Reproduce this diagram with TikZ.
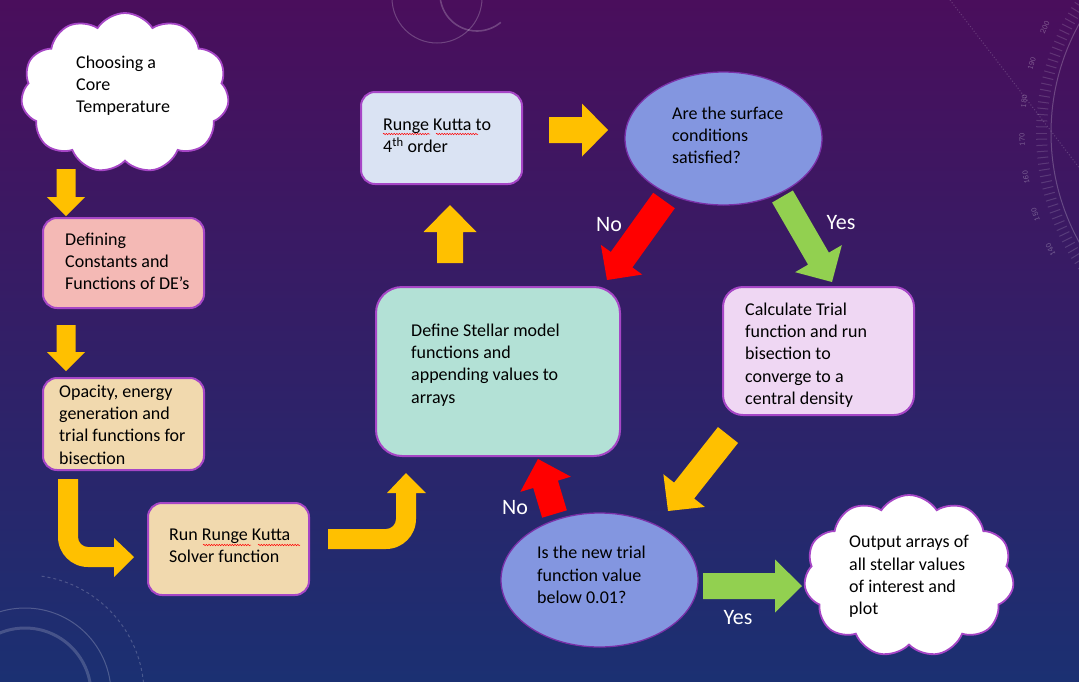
\documentclass[tikz,border=0pt]{standalone}
\usepackage{fontspec}
\setmainfont{Carlito}
\usetikzlibrary{shapes.geometric,shapes.symbols,calc,decorations.pathmorphing}
\definecolor{bgtop}{HTML}{4A0E5C}
\definecolor{bgmid}{HTML}{361C6C}
\definecolor{bgbot}{HTML}{1B3072}
\definecolor{boxline}{HTML}{A646C6}
\definecolor{ellline}{HTML}{7A30A8}
\definecolor{ellfill}{HTML}{8396E0}
\definecolor{pinkfill}{HTML}{F4B9B5}
\definecolor{wheatfill}{HTML}{F1D9AE}
\definecolor{tealfill}{HTML}{B3E1D6}
\definecolor{bluefill}{HTML}{DAE3F3}
\definecolor{lilacfill}{HTML}{EFD7F3}
\definecolor{arryellow}{HTML}{FFC000}
\definecolor{arrred}{HTML}{FF0000}
\definecolor{arrgreen}{HTML}{92D050}
\newcommand{\blockarrow}[6]{% color, tail, tip, shaft half, head half, head length
  \path ($(#3)!#6!(#2)$) coordinate (ab);
  \fill[#1] ($(#2)!#4!90:(#3)$) -- ($(ab)!#4!90:(#3)$) -- ($(ab)!#5!90:(#3)$) -- (#3)
    -- ($(ab)!#5!-90:(#3)$) -- ($(ab)!#4!-90:(#3)$) -- ($(#2)!#4!-90:(#3)$) -- cycle;
}
\begin{document}
\begin{tikzpicture}[x=1pt,y=-1pt,
  box/.style={draw=boxline, line width=2pt, rounded corners=14pt, inner sep=0pt},
  txt/.style={font=\fontsize{18}{22.3}\selectfont, align=left, inner sep=0pt, anchor=west, text=black},
  lbl/.style={font=\fontsize{22}{26}\selectfont, text=white, inner sep=0pt},
  ellbox/.style={ellipse, draw=ellline, line width=1.3pt, fill=ellfill, inner sep=0pt},
  cloudbox/.style={cloud, cloud puffs=11, cloud puff arc=115, draw=boxline, line width=1.8pt, fill=white, inner sep=0pt},
  deco/.style={draw=white, opacity=0.22, line width=1pt},
  dialnum/.style={font=\ttfamily\fontsize{8.5}{8.5}\selectfont, text=white, opacity=0.3, inner sep=0pt},
  squiggle/.style={draw=red, line width=0.5pt, decorate, decoration={snake, amplitude=0.7pt, segment length=2.6pt}}
]
\useasboundingbox (0,0) rectangle (1079,681);
\shade[top color=bgtop, middle color=bgmid, bottom color=bgbot] (0,0) rectangle (1079,681);

% background decoration
\coordinate (dialc) at (1276,133);
\draw[deco] (dialc) circle[radius=225];
\foreach \a in {141,142.5,...,216} {\draw[deco, opacity=0.15] ($(dialc)+(\a:229)$) -- ($(dialc)+(\a:240)$);}
\foreach \n in {140,150,...,200} {
  \pgfmathsetmacro\th{152.6+0.865*(\n-140)}
  \node[dialnum, rotate={-\th-90}] (dial\n) at ($(dialc)+(\th:254)$) {\n};
}
\draw[deco, dotted, opacity=0.18] (950,0) -- (1081,170);
\draw[deco] (437,-2) circle[radius=45];
\draw[deco, line width=1.6pt] (440,-6) arc[start angle=180, end angle=50, radius=37];
\coordinate (blc) at (25,694);
\draw[deco] (blc) circle[radius=86];
\draw[deco, line width=3pt, opacity=0.18] (blc) circle[radius=66];
\draw[deco, dashed, opacity=0.2] ($(blc)+(-82:119)$) arc[start angle=-82, end angle=80, radius=119];

% nodes
\node[cloudbox, minimum width=208pt, minimum height=160pt] (core) at (125,93) {};
\node[txt] (coret) at (76,85.5) {Choosing a\\Core\\Temperature};

\node[box, fill=pinkfill, minimum width=161pt, minimum height=90pt] (def) at (123.5,263) {};
\node[txt] (deft) at (65,261.5) {Defining\\Constants and\\Functions of DE’s};

\node[box, fill=wheatfill, minimum width=161pt, minimum height=92pt] (opa) at (123.5,424) {};
\node[txt] (opat) at (59,424.5) {Opacity, energy\\generation and\\trial functions for\\bisection};

\node[box, fill=wheatfill, minimum width=161pt, minimum height=92pt] (run) at (228.5,549) {};
\node[txt] (runt) at (169,546) {Run Runge Kutta\\Solver function};

\node[box, rounded corners=26pt, fill=tealfill, minimum width=244pt, minimum height=169pt] (stel) at (498,371.5) {};
\node[txt] (stelt) at (411,365) {Define Stellar model\\functions and\\appending values to\\arrays};

\node[box, fill=bluefill, minimum width=161pt, minimum height=92pt] (rk) at (441.5,138) {};
\node[txt] (rkt) at (383,136) {Runge Kutta to\\4\textsuperscript{th} order};

\node[ellbox, minimum width=197pt, minimum height=133pt] (surf) at (723.5,138.5) {};
\node[txt] (surft) at (672,135.5) {Are the surface\\conditions\\satisfied?};

\node[box, rounded corners=20pt, fill=lilacfill, minimum width=191pt, minimum height=128pt] (calc) at (818.5,351) {};
\node[txt] (calct) at (745,355) {Calculate Trial\\function and run\\bisection to\\converge to a\\central density};

\node[ellbox, minimum width=197pt, minimum height=134pt] (trial) at (599.5,580) {};
\node[txt] (trialt) at (537,575) {Is the new trial\\function value\\below 0.01?};

\node[cloudbox, minimum width=210pt, minimum height=162pt] (out) at (909,576) {};
\node[txt] (outt) at (849,576.5) {Output arrays of\\all stellar values\\of interest and\\plot};

% spell-check squiggles
\draw[squiggle] (383,134) -- (430,134);
\draw[squiggle] (436,134) -- (478,134);
\draw[squiggle] (203,545) -- (251,545);
\draw[squiggle] (258,545) -- (300,545);

% arrow anchor coordinates
\coordinate (a1t) at (66,169);   \coordinate (a1h) at (66,216);
\coordinate (a2t) at (66,325);   \coordinate (a2h) at (66,371);
\coordinate (a5t) at (450,263);  \coordinate (a5h) at (450,205);
\coordinate (a6t) at (549,130);  \coordinate (a6h) at (608,130);
\coordinate (a7t) at (664,200.5); \coordinate (a7h) at (607,280);
\coordinate (a8t) at (782.5,196.5); \coordinate (a8h) at (832,282);
\coordinate (a9t) at (728,435);  \coordinate (a9h) at (668,511);
\coordinate (a10t) at (554.5,514); \coordinate (a10h) at (538,459);
\coordinate (a11t) at (703,586); \coordinate (a11h) at (802,586);

\blockarrow{arryellow}{a1t}{a1h}{9.5pt}{19pt}{19pt}
\blockarrow{arryellow}{a2t}{a2h}{9.5pt}{19pt}{19pt}
\blockarrow{arryellow}{a5t}{a5h}{13pt}{26.5pt}{27pt}
\blockarrow{arryellow}{a6t}{a6h}{13pt}{26.5pt}{26pt}
\blockarrow{arrred}{a7t}{a7h}{13.3pt}{25.5pt}{25pt}
\blockarrow{arrgreen}{a8t}{a8h}{12pt}{27pt}{27pt}
\blockarrow{arryellow}{a9t}{a9h}{12.8pt}{26.4pt}{26pt}
\blockarrow{arrred}{a10t}{a10h}{12.9pt}{26.4pt}{26.4pt}
\blockarrow{arrgreen}{a11t}{a11h}{13pt}{26.5pt}{27pt}

% bent arrows
\fill[arryellow] (58,479) -- (58,537) .. controls (58,553.6) and (71.4,567) .. (88,567) -- (114,567) -- (114,577) -- (134,557) -- (114,538) -- (114,547) -- (88,547) .. controls (82.5,547) and (78,542.5) .. (78,537) -- (78,479) -- cycle;
\fill[arryellow] (328,529) -- (386,529) .. controls (391.5,529) and (396,524.5) .. (396,519) -- (396,493) -- (387,493) -- (406,473) -- (426,493) -- (416,493) -- (416,519) .. controls (416,535.6) and (402.6,549) .. (386,549) -- (328,549) -- cycle;

% labels
\node[lbl] (no1) at (609,225) {No};
\node[lbl] (yes1) at (841,223) {Yes};
\node[lbl] (no2) at (515,508) {No};
\node[lbl] (yes2) at (738,618) {Yes};
\end{tikzpicture}
\end{document}
